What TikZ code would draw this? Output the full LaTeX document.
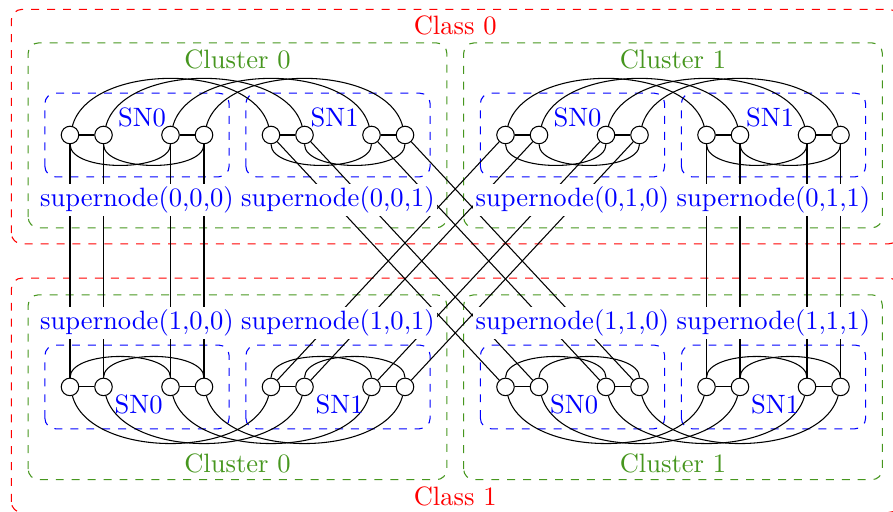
\documentclass[tikz,border=0pt]{standalone}
\usepackage{tikz}
\usetikzlibrary{positioning, calc}
\definecolor{clustergreen}{RGB}{70,150,30}

\begin{document}
\begin{tikzpicture}[
        x=0.4434cm, y=0.4434cm,
        vertex/.style={circle, draw=black, fill=white, inner sep=0pt, minimum size=6.6pt},
        snbox/.style={draw=blue, dashed, rounded corners},
        clusterbox/.style={draw=clustergreen, dashed, rounded corners},
        classbox/.style={draw=red, dashed, rounded corners},
        snlabel/.style={text=blue, inner sep=1pt},
        supernode/.style={text=blue, fill=white, inner sep=1pt},
        clusterlabel/.style={text=clustergreen},
        classlabel/.style={text=red}
    ]
        \useasboundingbox (-2.0896,-11.254) rectangle (24.567,4.0299);

        % Class and cluster frames
        \draw[classbox] (-1.75,-3.25) rectangle (24.75,3.75);
        \draw[classbox] (-1.75,-11.27) rectangle (24.75,-4.27);
        \draw[clusterbox] (-1.25,-2.77) rectangle (11.25,2.75);
        \draw[clusterbox] (11.75,-2.77) rectangle (24.25,2.75);
        \draw[clusterbox] (-1.25,-10.29) rectangle (11.25,-4.77);
        \draw[clusterbox] (11.75,-10.29) rectangle (24.25,-4.77);

        % Supernode frames
        \foreach \c in {0,1}
            \foreach \k in {0,1}
                \foreach \s in {0,1}
                    \draw[snbox] ({13*\k+6*\s-0.75},{-7.52*\c-1.25}) rectangle ({13*\k+6*\s+4.75},{-7.52*\c+1.25});

        % Vertices: v<class><cluster><supernode>-<index>
        \foreach \c in {0,1}
            \foreach \k in {0,1}
                \foreach \s in {0,1}
                    \foreach \j/\dx in {0/0,1/1,2/3,3/4}
                        \node[vertex] (v\c\k\s-\j) at ({13*\k+6*\s+\dx},{-7.52*\c}) {};

        % Links inside clusters
        \foreach \c/\inner/\outa/\outb in {0/-90/75/105, 1/90/-75/-105} {
            \foreach \k in {0,1} {
                \foreach \s in {0,1} {
                    \draw (v\c\k\s-0) -- (v\c\k\s-1);
                    \draw (v\c\k\s-2) -- (v\c\k\s-3);
                    \draw (v\c\k\s-0) to[out=\inner, in=\inner, looseness=0.72] (v\c\k\s-2);
                    \draw (v\c\k\s-1) to[out=\inner, in=\inner, looseness=0.72] (v\c\k\s-3);
                }
                \foreach \j in {0,...,3}
                    \draw (v\c\k0-\j) to[out=\outa, in=\outb, looseness=0.86] (v\c\k1-\j);
            }
        }

        % Links between classes
        \foreach \j in {0,...,3} {
            \draw (v000-\j) -- (v100-\j);
            \draw (v011-\j) -- (v111-\j);
            \draw (v001-\j) -- (v110-\j);
            \draw (v010-\j) -- (v101-\j);
        }

        % Labels
        \foreach \k in {0,1}
            \foreach \s in {0,1} {
                \node[supernode] (lab0\k\s) at ({13*\k+6*\s+2},-1.93) {supernode(0,\k,\s)};
                \node[supernode] (lab1\k\s) at ({13*\k+6*\s+2},-5.61) {supernode(1,\k,\s)};
            }
        \foreach \k in {0,1} {
            \node[snlabel] (sn0\k0) at ({13*\k+2.15},0.52) {SN0};
            \node[snlabel] (sn0\k1) at ({13*\k+7.9},0.52) {SN1};
            \node[snlabel] (sn1\k0) at ({13*\k+2.05},-8.04) {SN0};
            \node[snlabel] (sn1\k1) at ({13*\k+8.05},-8.04) {SN1};
            \node[clusterlabel] (cl0\k) at ({13*\k+5},2.27) {Cluster \k};
            \node[clusterlabel] (cl1\k) at ({13*\k+5},-9.79) {Cluster \k};
        }
        \node[classlabel] (class0) at (11.5,3.28) {Class 0};
        \node[classlabel] (class1) at (11.5,-10.8) {Class 1};
    \end{tikzpicture}
\end{document}
